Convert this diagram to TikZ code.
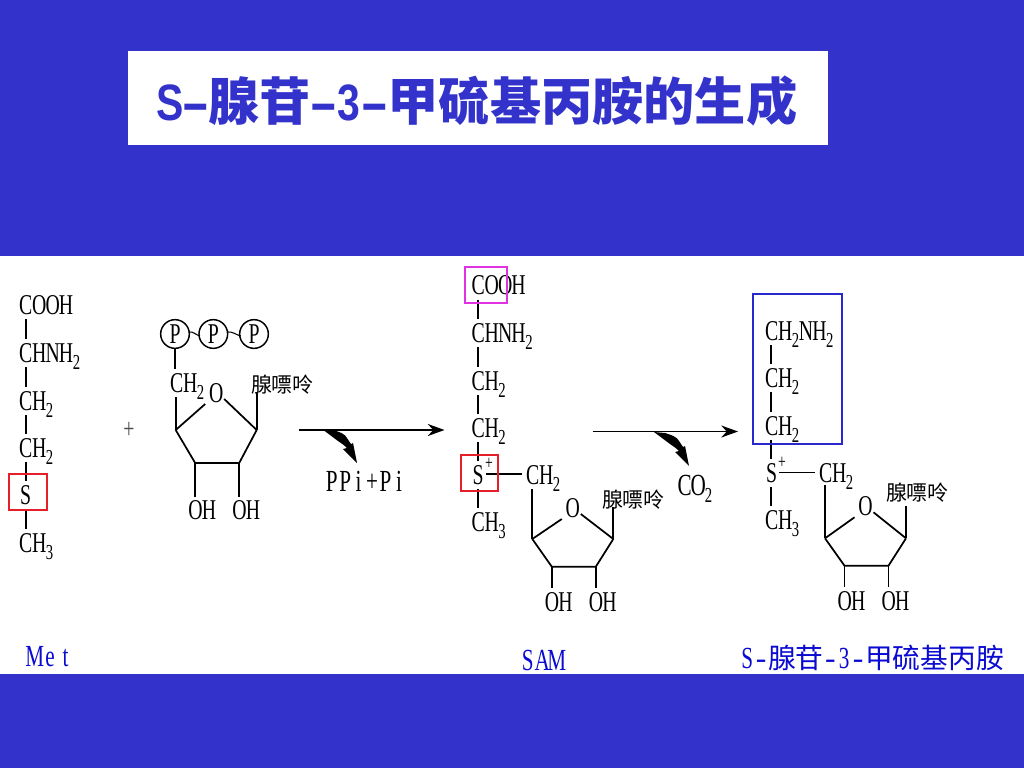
\documentclass[tikz,border=0pt]{standalone}
\usepackage{fontspec}
\usetikzlibrary{calc,arrows.meta}
\newfontfamily\chemf[FakeStretch=0.69]{Liberation Serif}
\newfontfamily\hanf{Noto Sans CJK SC}
\newfontfamily\titlelat[FakeStretch=0.8]{Liberation Sans}
\definecolor{slideblue}{RGB}{51,51,204}
\definecolor{labelblue}{RGB}{10,10,210}
\definecolor{framered}{RGB}{230,30,40}
\definecolor{framemag}{RGB}{225,50,225}
\definecolor{frameblue}{RGB}{40,40,205}
\def\mono#1{\monoloop#1\relax}
\def\monoloop#1{\ifx#1\relax\else\makebox[10.1pt]{#1}\expandafter\monoloop\fi}
\newcommand\subn[1]{\raisebox{-5.5pt}{\fontsize{16}{16}\selectfont #1}}
\newcommand\tlat[1]{\makebox[19.2pt]{#1}}
\newcommand\thy{\makebox[19.2pt]{\scalebox{2.1}[1]{-}}}
\newcommand\chembond[3]{\draw[bond] ($(#1.base west)+(#3,5)$) -- ($(#2.base west)+(#3,-23)$);}
% name, x, y, O rise, bottom drop, OH bond length
\newcommand\sugar[6]{%
  \coordinate (#1a) at (#2,#3);
  \coordinate (#1d) at ($(#1a)+(81,0)$);
  \coordinate (#1b) at ($(#1a)+(19.5,#5)$);
  \coordinate (#1c) at ($(#1a)+(63.5,#5)$);
  \node[chem,anchor=center] (#1o) at ($(#1a)+(40.5,-#4)$) {O};
  \node[chem] (#1hl) at ($(#1b)+(-6.5,#6+23.5)$) {\mono{OH}};
  \node[chem] (#1hr) at ($(#1c)+(-6.5,#6+23.5)$) {\mono{OH}};
  \draw[bond] (#1a) -- ($(#1o)+(-11,11)$);
  \draw[bond] ($(#1o)+(8,6)$) -- (#1d);
  \draw[bond,line join=miter] (#1a) -- (#1b) -- (#1c) -- (#1d);
  \draw[bond] (#1b) -- ($(#1hl.base west)+(6.5,-23)$);
  \draw[bond] (#1c) -- ($(#1hr.base west)+(6.5,-23)$);
}
\newcommand\bentarrow[3]{%
  \fill[shift={(#2,#3)}] (322,429) -- (333,430) .. controls (340,432) and (345,434) .. (347,438)
    -- (351,444) -- (353,443) -- (357,463) -- (343,449) -- (347,448)
    .. controls (344,445) and (341,443) .. (338,441) -- cycle;
  \coordinate (#1) at ($(357,463)+(#2,#3)$);
}
\tikzset{
  chem/.style={anchor=base west,inner sep=0pt,outer sep=0pt,text=black,font=\chemf\fontsize{21.5}{21.5}\selectfont},
  purine/.style={anchor=base west,inner sep=0pt,outer sep=0pt,text=black,font=\hanf\fontsize{15.6}{16}\selectfont},
  bluelabel/.style={anchor=base west,inner sep=0pt,outer sep=0pt,text=labelblue,font=\chemf\fontsize{23}{23}\selectfont},
  bond/.style={draw=black,line width=1.3pt},
  redframe/.style={draw=framered,line width=1.4pt},
  magframe/.style={draw=framemag,line width=1.4pt},
  blueframe/.style={draw=frameblue,line width=1.4pt},
  mainarrow/.style={draw=black,line width=1.3pt,-{Stealth[length=12.5pt,width=9pt,inset=4pt]}},
  phos/.style={circle,draw=black,line width=1.1pt,minimum size=21.5pt,inner sep=0pt,outer sep=0pt,font=\chemf\fontsize{21.5}{21.5}\selectfont}
}
\begin{document}
\begin{tikzpicture}[x=0.75pt,y=-0.75pt]
\useasboundingbox (0,0) rectangle (1024,768);
\fill[slideblue] (0,0) rectangle (1024,768);
\fill[white] (0,256) rectangle (1024,674);
\node[fill=white,inner sep=0pt,minimum width=525pt,minimum height=70.5pt,anchor=north west] (titlebox) at (128,51) {};
\node[anchor=base west,inner sep=0pt,text=slideblue] (titletext) at (157,120)
  {\titlelat\bfseries\fontsize{38.4}{40}\selectfont\tlat{S}\thy{\hanf\bfseries 腺苷}\thy\tlat{3}\thy{\hanf\bfseries 甲硫基丙胺的生成}};

% --- Met column
\node[chem] (m1) at (19,314) {\mono{COOH}};
\node[chem] (m2) at (19,362) {\mono{CHNH}\subn{2}};
\node[chem] (m3) at (19,410) {\mono{CH}\subn{2}};
\node[chem] (m4) at (19,457) {\mono{CH}\subn{2}};
\node[chem] (m5) at (19,504) {\mono{S}};
\node[chem] (m6) at (19,552) {\mono{CH}\subn{3}};
\chembond{m1}{m2}{7}\chembond{m2}{m3}{7}\chembond{m3}{m4}{7}\chembond{m4}{m5}{7}\chembond{m5}{m6}{7}
\coordinate (mfa) at (9,474); \coordinate (mfb) at (46.7,510);
\draw[redframe] (mfa) rectangle (mfb);

\node[text=black!70,inner sep=0pt,font=\chemf\fontsize{21.5}{21.5}\selectfont] (plus) at (129,430) {+};

% --- ATP
\sugar{ra}{175.7}{430}{37}{33}{33}
\node[chem] (ach) at (170,392) {\mono{CH}\subn{2}};
\node[purine] (apur) at (251,392) {腺嘌呤};
\node[phos] (p1) at (175,334) {P};
\node[phos] (p2) at (213.3,334) {P};
\node[phos] (p3) at (254,334) {P};
\draw[black,line width=.8pt] ($(p1.east)+(-.5,-2)$) .. controls +(4,-1) and +(-4,-1) .. ($(p2.west)+(1,2)$);
\draw[black,line width=.8pt] ($(p2.east)+(0,-2)$) .. controls +(4,-1) and +(-4,-1) .. ($(p3.west)+(1,2)$);
\draw[bond] (p1.south) -- ($(ach.base west)+(5,-23)$);
\draw[bond] (rad) -- ($(rad |- apur.base)$);
\draw[bond] (raa) -- ($(raa |- ach.base)+(0,5)$);

% --- first reaction arrow
\coordinate (aa1) at (299,430); \coordinate (aa2) at (444.5,430);
\draw[mainarrow] (aa1) -- (aa2);
\bentarrow{ba1}{0}{0}
\node[chem,font=\chemf\fontsize{23}{23}\selectfont] (ppi) at (325,491) {\mono{PPi+Pi}};

% --- SAM column
\node[chem] (s1) at (471.5,294.5) {\mono{COOH}};
\node[chem] (s2) at (471.5,342) {\mono{CHNH}\subn{2}};
\node[chem] (s3) at (471.5,390) {\mono{CH}\subn{2}};
\node[chem] (s4) at (471.5,437) {\mono{CH}\subn{2}};
\node[chem] (s5) at (471.5,484) {\mono{S}};
\node[chem] (s6) at (471.5,531) {\mono{CH}\subn{3}};
\chembond{s1}{s2}{6.5}\chembond{s2}{s3}{6.5}\chembond{s3}{s4}{6.5}\chembond{s4}{s5}{6.5}\chembond{s5}{s6}{6.5}
\node[inner sep=0pt,text=black,font=\chemf\fontsize{15}{15}\selectfont] (splus) at (489,464) {+};
\node[chem] (sch) at (526,484) {\mono{CH}\subn{2}};
\draw[bond] ($(s5.base west)+(14,-10)$) -- ($(sch.base west)+(-4,-10)$);
\coordinate (sfa) at (460.7,455); \coordinate (sfb) at (497.7,490.7);
\draw[redframe] (sfa) rectangle (sfb);
\coordinate (sga) at (465,267); \coordinate (sgb) at (507,303);
\draw[magframe] (sga) rectangle (sgb);
\sugar{rb}{532.3}{539}{31}{27.7}{21}
\node[purine] (bpur) at (602,507) {腺嘌呤};
\draw[bond] (rbd) -- ($(rbd |- bpur.base)$);
\draw[bond] (rba) -- ($(rba |- sch.base)+(0,5)$);

% --- second reaction arrow
\coordinate (ab1) at (592.7,431.5); \coordinate (ab2) at (738,431.5);
\draw[mainarrow] (ab1) -- (ab2);
\bentarrow{ba2}{332}{3}
\node[chem,font=\chemf\fontsize{23}{23}\selectfont] (cotwo) at (678,495) {\mono{CO}\subn{2}};

% --- product column
\node[chem] (t1) at (765,340) {\mono{CH}\subn{2}\mono{NH}\subn{2}};
\node[chem] (t2) at (765,387) {\mono{CH}\subn{2}};
\node[chem] (t3) at (765,435) {\mono{CH}\subn{2}};
\node[chem] (t4) at (765,482) {\mono{S}};
\node[chem] (t5) at (765,529) {\mono{CH}\subn{3}};
\chembond{t1}{t2}{5.7}\chembond{t2}{t3}{5.7}\chembond{t3}{t4}{5.7}\chembond{t4}{t5}{5.7}
\node[inner sep=0pt,text=black,font=\chemf\fontsize{15}{15}\selectfont] (tplus) at (782,463) {+};
\node[chem] (tch) at (819,482) {\mono{CH}\subn{2}};
\draw[bond] ($(t4.base west)+(14,-9.5)$) -- ($(tch.base west)+(-4,-9.5)$);
\coordinate (tfa) at (752.7,294.3); \coordinate (tfb) at (842,444.3);
\draw[blueframe] (tfa) rectangle (tfb);
\sugar{rc}{825}{538.3}{32}{27.4}{21}
\node[purine] (cpur) at (886,500) {腺嘌呤};
\draw[bond] (rcd) -- ($(rcd |- cpur.base)+(0,6)$);
\draw[bond] (rca) -- ($(rca |- tch.base)+(0,3)$);

% --- captions
\node[bluelabel] (lmet) at (27,666) {\makebox[11.6pt]{M}\makebox[11.6pt]{e}\makebox[11.6pt]{t}};
\node[bluelabel] (lsam) at (520.5,670.5) {\makebox[10.9pt]{S}\makebox[10.9pt]{A}\makebox[10.9pt]{M}};
\node[anchor=base west,inner sep=0pt,text=labelblue] (lprod) at (740,668)
  {\fontsize{23}{23}\selectfont\chemf\makebox[10.4pt]{S}\makebox[10.4pt]{\scalebox{1.5}[1]{-}}{\hanf\fontsize{20.8}{22}\selectfont 腺苷}\makebox[10.4pt]{\scalebox{1.5}[1]{-}}\makebox[10.4pt]{3}\makebox[10.4pt]{\scalebox{1.5}[1]{-}}{\hanf\fontsize{20.8}{22}\selectfont 甲硫基丙胺}};
\end{tikzpicture}
\end{document}
